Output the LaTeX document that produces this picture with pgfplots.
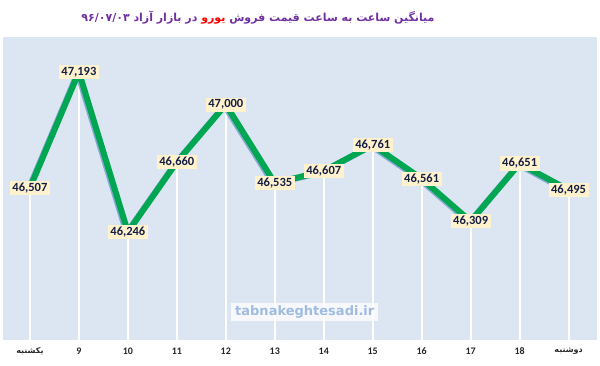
\documentclass[border=0pt]{standalone}
\usepackage{fontspec}
\setmainfont{Carlito}
\newfontfamily\arabicfont[Script=Arabic]{DejaVu Sans}
\newfontfamily\wmfont{DejaVu Sans}
\TeXXeTstate=1
\usepackage{pgfplots}
\pgfplotsset{compat=1.18}
\definecolor{bg}{RGB}{220,230,242}
\definecolor{lgreen}{RGB}{0,166,81}
\definecolor{shadowc}{RGB}{60,120,185}
\definecolor{lblfill}{RGB}{255,242,204}
\definecolor{lbltext}{RGB}{22,32,70}
\definecolor{titlepurple}{RGB}{112,48,160}
\definecolor{wmtext}{RGB}{160,188,225}
\pgfplotstableread{
x y
0 46507
1 47193
2 46246
3 46660
4 47000
5 46535
6 46607
7 46761
8 46561
9 46309
10 46651
11 46495
}\datatable
\begin{document}
\begin{tikzpicture}
\path[use as bounding box] (0,0) rectangle (600pt,365pt);
\node[font=\arabicfont\bfseries\fontsize{11}{13}\selectfont, text=titlepurple, inner sep=0pt] at (258pt,347pt)
  {\beginL ۹۶/۰۷/۰۳\endL\ \beginR در بازار آزاد\endR\ {\color{red}\beginR یورو\endR}\ \beginR میانگین ساعت به ساعت قیمت فروش\endR};
\begin{axis}[
  at={(3pt,25pt)}, anchor=south west,
  scale only axis, width=594pt, height=303pt,
  xmin=-0.55, xmax=11.58, ymin=45607, ymax=47400,
  axis background/.style={fill=bg},
  axis line style={draw=none},
  ytick=\empty,
  xtick={0,...,11},
  xticklabels={{\arabicfont\fontsize{8}{10}\selectfont\beginR یکشنبه\endR},9,10,11,12,13,14,15,16,17,18,{\arabicfont\fontsize{8}{10}\selectfont\beginR دوشنبه\endR}},
  major tick length=0pt,
  xticklabel style={font=\bfseries\fontsize{10}{11}\selectfont, text=black!85, yshift=-4pt},
  /pgf/number format/assume math mode=true,
  /pgf/number format/1000 sep={,},
]
\addplot[white, line width=2pt, ycomb, no markers] table[x=x,y=y] {\datatable};
\addplot[shadowc, opacity=0.55, line width=6pt, line join=round, no markers, xshift=-1.3pt, yshift=-1pt] table[x=x,y=y] {\datatable};
\addplot[lgreen, line width=6pt, line join=round, no markers,
  nodes near coords, nodes near coords align={center},
  every node near coord/.append style={font=\bfseries\fontsize{12.5}{13}\selectfont, text=lbltext, fill=lblfill, inner xsep=2.5pt, inner ysep=2pt, anchor=center}
  ] table[x=x,y=y] {\datatable};
\node[fill=white, fill opacity=0.75, text opacity=1, text=wmtext, font=\wmfont\bfseries\fontsize{13}{14}\selectfont, inner xsep=4pt, inner ysep=2.5pt] at (rel axis cs:0.508,0.092) {tabnakeghtesadi.ir};
\end{axis}
\end{tikzpicture}
\end{document}
